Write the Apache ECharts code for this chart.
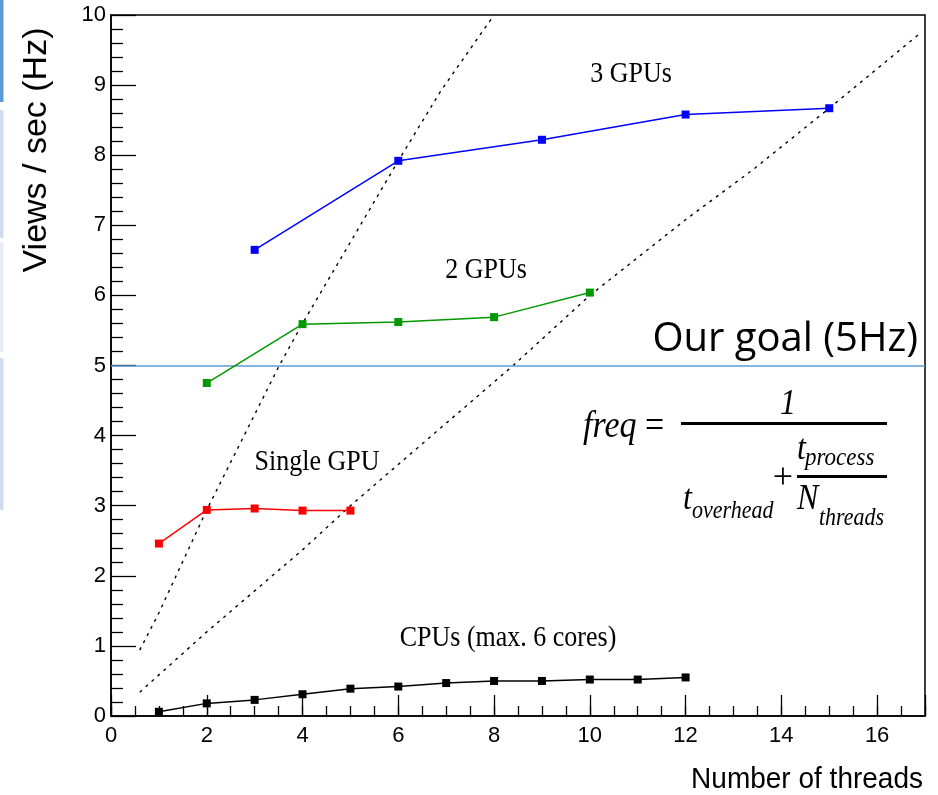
<!DOCTYPE html>
<html><head><meta charset="utf-8">
<script src="https://cdn.jsdelivr.net/npm/echarts@6/dist/echarts.min.js"></script>
<style>html,body{margin:0;padding:0;background:#fff}#c{width:938px;height:795px}</style>
</head><body><div id="c"></div>
<script>
// ---- data ----
const threadsCPU = [1,2,3,4,5,6,7,8,9,10,11,12];
const rateCPU    = [0.06,0.18,0.23,0.31,0.39,0.42,0.47,0.50,0.50,0.52,0.52,0.55];
const threads1GPU = [1,2,3,4,5];
const rate1GPU    = [2.46,2.94,2.96,2.93,2.93];
const threads2GPU = [2,4,6,8,10];
const rate2GPU    = [4.75,5.59,5.62,5.69,6.04];
const threads3GPU = [3,6,9,12,15];
const rate3GPU    = [6.65,7.92,8.22,8.58,8.67];
// dotted reference curves
const fitAx = [0.6,1.0,2.0,3.5,4.0,6.0,6.9,8.0];
const fitAy = [0.94,1.47,2.94,4.98,5.6,7.92,8.93,10.0];
const fitBx = [0.6,2.0,4.0,5.0,8.4,10,12,13.4,15,16.9];
const fitBy = [0.34,1.2,2.37,3.0,5.0,6.0,7.08,7.79,8.67,9.74];
const goalRate = 5;
const xTickLabels = ['0','2','4','6','8','10','12','14','16'];
const yTickLabels = ['0','1','2','3','4','5','6','7','8','9','10'];
const labels = {cpu:'CPUs (max. 6 cores)', g1:'Single GPU', g2:'2 GPUs', g3:'3 GPUs'};

const pairs = (xs, ys) => xs.map((x, i) => [x, ys[i]]);
const chart = echarts.init(document.getElementById('c'), null, {renderer:'canvas'});

const dataSeries = (name, xs, ys, color) => ({
  name, type:'line', data: pairs(xs, ys), symbol:'rect', symbolSize:8,
  itemStyle:{color}, lineStyle:{color, width:1.5}, z:5, silent:true
});

const serif = '"Liberation Serif","Times New Roman",serif';
const sans = '"Liberation Sans",Arial,sans-serif';
const annot = (x, y, text) => ({type:'text', x, y, scaleY:1.15,
  style:{text, font:'26px '+serif, fill:'#000', align:'center', verticalAlign:'middle'}});

chart.setOption({
  animation:false,
  backgroundColor:'#fff',
  grid:{left:111, right:13, top:15, bottom:79, show:true, borderColor:'#000', borderWidth:1.5, backgroundColor:'transparent'},
  xAxis:[{
    type:'value', min:0, max:17, interval:2, position:'bottom',
    axisLine:{show:true, onZero:false, lineStyle:{color:'#000', width:1.5}},
    axisTick:{show:true, inside:true, length:21, lineStyle:{color:'#000', width:1.3}},
    axisLabel:{show:true, margin:9, fontSize:22, fontFamily:sans, color:'#000',
      formatter:(v) => xTickLabels.includes(String(v)) ? String(v) : ''},
    splitLine:{show:false}
  },{
    type:'value', min:0, max:17, interval:0.5, position:'bottom',
    axisLine:{show:false}, axisLabel:{show:false}, splitLine:{show:false},
    axisTick:{show:true, inside:true, length:10, lineStyle:{color:'#000', width:1.3}}
  }],
  yAxis:{
    type:'value', min:0, max:10, interval:1,
    axisLine:{show:true, onZero:false, lineStyle:{color:'#000', width:1.5}},
    axisTick:{show:true, inside:true, length:25, lineStyle:{color:'#000', width:1.3}},
    minorTick:{show:true, splitNumber:5, length:12, lineStyle:{color:'#000', width:1.3}},
    axisLabel:{margin:5, fontSize:22, fontFamily:sans, color:'#000',
      formatter:(v) => yTickLabels.includes(String(v)) ? String(v) : ''},
    splitLine:{show:false}
  },
  series:[
    {name:'fitA', type:'line', data:pairs(fitAx, fitAy), showSymbol:false, symbol:'none', silent:true, z:2,
      lineStyle:{color:'#000', width:1.4, type:[3,5]}},
    {name:'fitB', type:'line', data:pairs(fitBx, fitBy), showSymbol:false, symbol:'none', silent:true, z:2,
      lineStyle:{color:'#000', width:1.4, type:[3,5]},
      markLine:{silent:true, symbol:'none', label:{show:false},
        lineStyle:{color:'#5B9BD5', width:1.6, type:'solid'}, data:[{yAxis:goalRate}]}},
    dataSeries(labels.g3, threads3GPU, rate3GPU, '#0000ff'),
    dataSeries(labels.g2, threads2GPU, rate2GPU, '#009900'),
    dataSeries(labels.g1, threads1GPU, rate1GPU, '#ff0000'),
    dataSeries(labels.cpu, threadsCPU, rateCPU, '#000000')
  ],
  graphic:[
    // slide edge strips
    {type:'rect', shape:{x:0,y:0,width:3.5,height:102}, style:{fill:'#5b9bd5'}},
    {type:'rect', shape:{x:0,y:110,width:3.5,height:128}, style:{fill:'#cddcef'}},
    {type:'rect', shape:{x:0,y:242,width:3.5,height:110}, style:{fill:'#e6edf7'}},
    {type:'rect', shape:{x:0,y:358,width:3.5,height:152}, style:{fill:'#cddcef'}},
    // axis titles
    {type:'text', x:37, y:150, rotation:Math.PI/2,
      style:{text:'Views / sec (Hz)', font:'34px '+sans, fill:'#000', align:'center', verticalAlign:'middle'}},
    {type:'text', x:923, y:780, scaleY:1.08,
      style:{text:'Number of threads', font:'28px '+sans, fill:'#000', align:'right', verticalAlign:'middle'}},
    // series annotations
    annot(631, 74, labels.g3),
    annot(486, 270, labels.g2),
    annot(317, 462, labels.g1),
    annot(508, 638, labels.cpu),
    // goal label
    {type:'text', x:918, y:340, style:{text:'Our goal (5Hz)', font:'40px "Open Sans","Noto Sans",sans-serif', fill:'#000', align:'right', verticalAlign:'middle'}},
    // formula
    {type:'text', x:583, y:427, scaleY:1.1, style:{text:'{i|freq} =', font:'34px '+serif, fill:'#000', align:'left', verticalAlign:'middle',
      rich:{i:{font:'italic 34px '+serif, fill:'#000'}}}},
    {type:'text', x:788, y:405, scaleY:1.1, style:{text:'1', font:'italic 32px '+serif, fill:'#000', align:'center', verticalAlign:'middle'}},
    {type:'rect', shape:{x:681, y:422, width:206, height:3}, style:{fill:'#000'}},
    {type:'text', x:683, y:500, scaleY:1.1, style:{text:'t', font:'italic 32px '+serif, fill:'#000', align:'left', verticalAlign:'middle'}},
    {type:'text', x:692, y:512, scaleY:1.1, style:{text:'overhead', font:'italic 22px '+serif, fill:'#000', align:'left', verticalAlign:'middle'}},
    {type:'text', x:783, y:479, style:{text:'+', font:'36px '+serif, fill:'#000', align:'center', verticalAlign:'middle'}},
    {type:'text', x:797, y:450, scaleY:1.1, style:{text:'t', font:'italic 32px '+serif, fill:'#000', align:'left', verticalAlign:'middle'}},
    {type:'text', x:805, y:458, scaleY:1.1, style:{text:'process', font:'italic 23px '+serif, fill:'#000', align:'left', verticalAlign:'middle'}},
    {type:'rect', shape:{x:797, y:475, width:90, height:3}, style:{fill:'#000'}},
    {type:'text', x:797, y:500, scaleY:1.1, style:{text:'N', font:'italic 32px '+serif, fill:'#000', align:'left', verticalAlign:'middle'}},
    {type:'text', x:819, y:519, scaleY:1.1, style:{text:'threads', font:'italic 22px '+serif, fill:'#000', align:'left', verticalAlign:'middle'}}
  ]
});
</script>
</body></html>
